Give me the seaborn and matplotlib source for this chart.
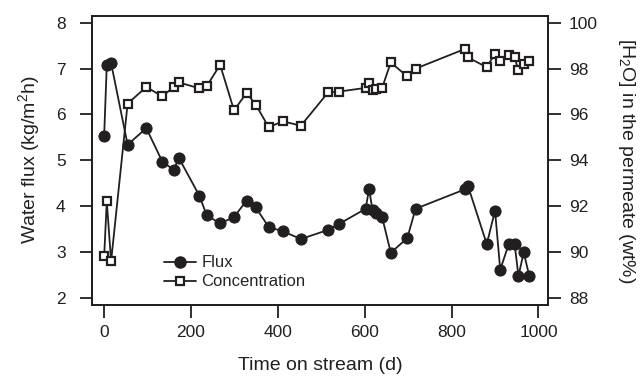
import matplotlib
matplotlib.use("Agg")
import matplotlib.pyplot as plt
import seaborn as sns
import pandas as pd
from matplotlib.lines import Line2D

time_d = [0, 6, 16, 54, 97, 134, 160, 172, 219, 236, 267, 299, 328, 349, 379, 411, 453,
          516, 541, 602, 610, 618, 627, 640, 660, 698, 717, 832, 838, 881, 900, 912, 932,
          945, 954, 966, 979]
flux = [5.54, 7.07, 7.12, 5.34, 5.70, 4.97, 4.79, 5.05, 4.23, 3.80, 3.62, 3.76, 4.12, 3.97,
        3.54, 3.45, 3.28, 3.48, 3.61, 3.94, 4.37, 3.91, 3.85, 3.76, 2.98, 3.30, 3.94, 4.37,
        4.43, 3.17, 3.90, 2.61, 3.18, 3.18, 2.47, 2.99, 2.47]
conc = [89.80, 92.2, 89.59, 96.47, 97.2, 96.79, 97.2, 97.4, 97.14, 97.23, 98.17, 96.18,
        96.94, 96.43, 95.44, 95.7, 95.51, 96.97, 97.0, 97.16, 97.38, 97.08, 97.1, 97.16,
        98.27, 97.66, 98.0, 98.87, 98.49, 98.06, 98.66, 98.35, 98.61, 98.49, 97.93, 98.21,
        98.32]
x_ticks = [0, 200, 400, 600, 800, 1000]
left_ticks = [2, 3, 4, 5, 6, 7, 8]
right_ticks = [88, 90, 92, 94, 96, 98, 100]

df = pd.DataFrame({"t": time_d, "flux": flux, "conc": conc})

sns.set_style("ticks")
plt.rcParams["font.family"] = ["Liberation Sans", "DejaVu Sans"]
plt.rcParams["mathtext.fontset"] = "custom"
plt.rcParams["mathtext.rm"] = "Liberation Sans"
plt.rcParams["mathtext.it"] = "Liberation Sans"

fig = plt.figure(figsize=(6.41, 3.76), dpi=100)
ax = fig.add_axes([92/641, 1-304.5/376, (548-92)/641, (304.5-16)/376])
ax2 = ax.twinx()

col = "#231f20"
sns.lineplot(data=df, x="t", y="flux", ax=ax, color=col, marker="o", markersize=8,
             markeredgecolor=col, markerfacecolor=col, linewidth=1.3, sort=False)
sns.lineplot(data=df, x="t", y="conc", ax=ax2, color=col, marker="s", markersize=6.3,
             markeredgecolor=col, markerfacecolor="white", markeredgewidth=1.6,
             linewidth=1.3, sort=False)

ax.set_xlim(-28, 1022)
ax.set_ylim(1.85, 8.15)
ax2.set_ylim(87.7, 100.3)
ax.set_xticks(x_ticks)
ax.set_yticks(left_ticks)
ax2.set_yticks(right_ticks)

for a in (ax, ax2):
    for s in a.spines.values():
        s.set_linewidth(1.3)
        s.set_color(col)
    a.tick_params(direction="out", length=9, width=1.3, labelsize=12.5, colors=col,
                  pad=6)
ax.tick_params(axis="y", pad=10)

ax.set_xlabel("Time on stream (d)", fontsize=14, color=col, labelpad=12)
ax.set_ylabel("Water flux (kg/m$^2$h)", fontsize=14, color=col, labelpad=10)
ax2.set_ylabel("[H$_2$O] in the permeate (wt%)", fontsize=14, color=col,
               rotation=270, labelpad=28)

handles = [
    Line2D([], [], color=col, marker="o", markersize=8, markerfacecolor=col, linewidth=1.3),
    Line2D([], [], color=col, marker="s", markersize=6.3, markerfacecolor="white",
           markeredgewidth=1.6, linewidth=1.3),
]
ax2.legend(handles, ["Flux", "Concentration"], loc="lower left",
           bbox_to_anchor=(0.125, 0.0), frameon=False, fontsize=12,
           handlelength=1.9, handletextpad=0.35, labelspacing=0.25)

fig.savefig("out.png", dpi=100)
